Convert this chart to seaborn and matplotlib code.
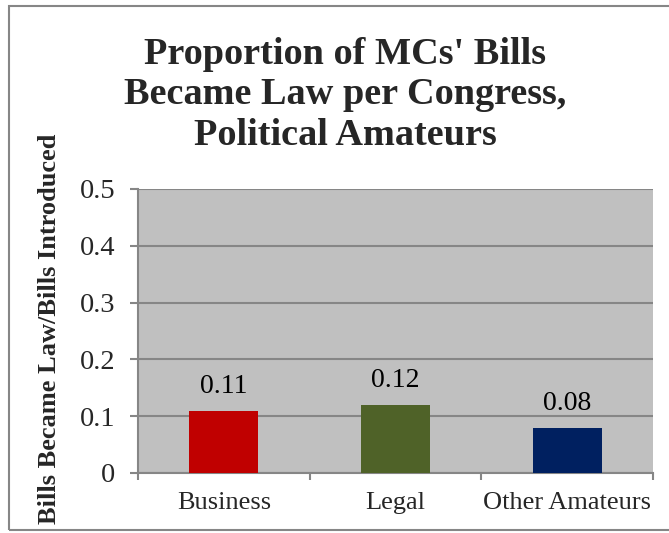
import matplotlib
matplotlib.use("Agg")
import matplotlib.pyplot as plt
from matplotlib.patches import Rectangle
from matplotlib.ticker import FixedLocator
import seaborn as sns
import pandas as pd

categories = ["Business", "Legal", "Other Amateurs"]
proportions = [0.11, 0.12, 0.08]
bar_colors = ["#C00000", "#4F6228", "#002060"]
y_ticks = [0, 0.1, 0.2, 0.3, 0.4, 0.5]
y_tick_labels = ["0", "0.1", "0.2", "0.3", "0.4", "0.5"]

title_text = "Proportion of MCs' Bills\nBecame Law per Congress,\nPolitical Amateurs"
y_label = "Bills Became Law/Bills Introduced"

sns.set_theme(style="white")
plt.rcParams["font.family"] = ["Liberation Serif", "DejaVu Serif"]

df = pd.DataFrame({"category": categories, "proportion": proportions})

fig = plt.figure(figsize=(6.69, 5.33), dpi=100)
ax = fig.add_axes([138 / 669, 1 - 473 / 533, (653 - 138) / 669, (473 - 189) / 533])

sns.barplot(data=df, x="category", y="proportion", hue="category",
            palette=bar_colors, width=0.4, legend=False, ax=ax,
            saturation=1, linewidth=0, zorder=3)

ax.set_facecolor("#C0C0C0")
ax.set_xlim(-0.5, 2.5)
ax.set_ylim(0, 0.5)
ax.set_yticks(y_ticks)
ax.set_yticklabels(y_tick_labels, fontsize=20.5)
ax.yaxis.grid(True, color="#868686", linewidth=1.5, zorder=1)
ax.set_axisbelow(True)

ax.set_xticks(range(len(categories)))
ax.set_xticklabels(categories, fontsize=19)
ax.xaxis.set_minor_locator(FixedLocator([-0.5, 0.5, 1.5, 2.5]))
ax.tick_params(axis="x", which="major", length=0, pad=14)
ax.tick_params(axis="x", which="minor", length=5, width=1.5, color="#868686", bottom=True)
ax.tick_params(axis="y", which="major", length=6, width=1.5, color="#868686", left=True, pad=10.5)

for side in ["top", "right"]:
    ax.spines[side].set_visible(False)
for side in ["left", "bottom"]:
    ax.spines[side].set_color("#868686")
    ax.spines[side].set_linewidth(1.5)

ax.set_xlabel("")
ax.set_ylabel("")

for i, v in enumerate(proportions):
    ax.annotate(f"{v:.2f}", xy=(i, v), xytext=(0, 12.5), textcoords="offset points",
                ha="center", va="baseline", fontsize=20, color="black")

fig.text(345 / 669, 1 - 95 / 533, title_text, ha="center", va="center",
         fontsize=27.5, fontweight="bold", linespacing=1.2)
fig.text(50 / 669, 1 - 329 / 533, y_label, rotation=90, ha="center", va="center",
         fontsize=19, fontweight="bold")

fig.patches.append(Rectangle((9 / 669, 1 - 530 / 533), 1.0, 524 / 533,
                             transform=fig.transFigure, fill=False,
                             edgecolor="#868686", linewidth=1.5, clip_on=False))

fig.savefig("out.png", dpi=100)
